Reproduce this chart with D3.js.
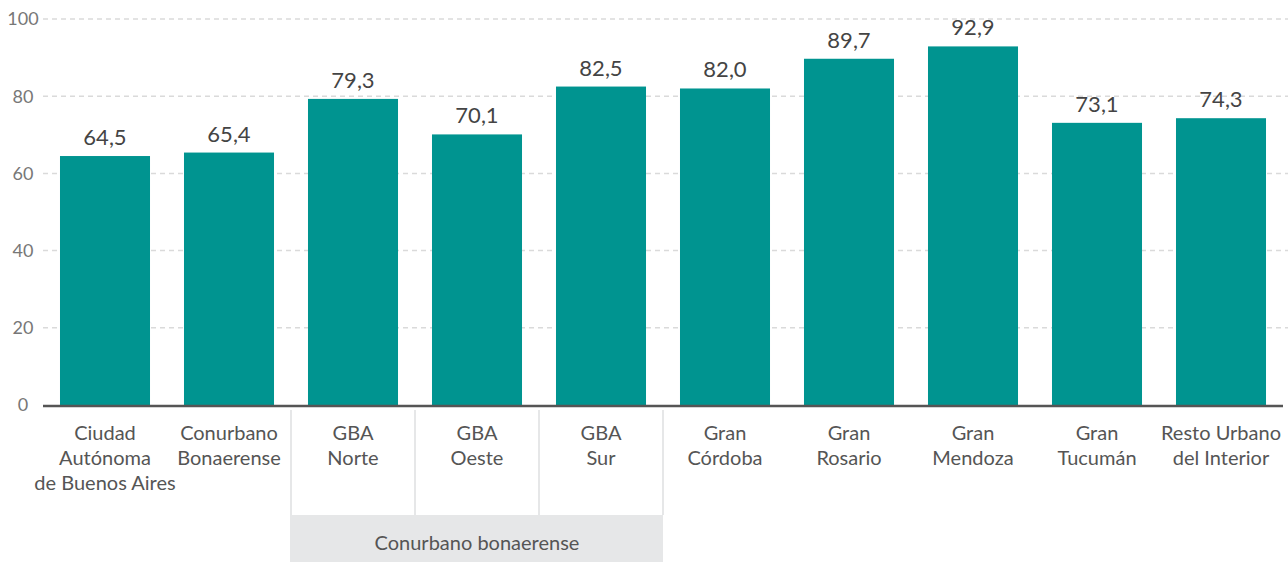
<!DOCTYPE html>
<html>
<head>
<meta charset="utf-8">
<script src="https://cdn.jsdelivr.net/npm/d3@7"></script>
<style>
  body { margin: 0; background: #fff; }
  svg { display: block; font-family: Lato, "Noto Sans", sans-serif; }
</style>
</head>
<body>
<svg id="chart" width="1288" height="562"></svg>
<script>
// data
const categories = [
  ['Ciudad', 'Autónoma', 'de Buenos Aires'],
  ['Conurbano', 'Bonaerense'],
  ['GBA', 'Norte'],
  ['GBA', 'Oeste'],
  ['GBA', 'Sur'],
  ['Gran', 'Córdoba'],
  ['Gran', 'Rosario'],
  ['Gran', 'Mendoza'],
  ['Gran', 'Tucumán'],
  ['Resto Urbano', 'del Interior']
]
const values = [64.5, 65.4, 79.3, 70.1, 82.5, 82.0, 89.7, 92.9, 73.1, 74.3]
const yTicks = [0, 20, 40, 60, 80, 100]
const groupLabel = 'Conurbano bonaerense'
const groupMembers = [2, 3, 4]   // indices of the GBA bars

const size = { width: 1288, height: 562 }
const margin = { left: 43, right: 5, top: 19, bottom: 157 }
const barColor = '#009490'

const svg = d3.select('#chart')

const x = d3.scaleBand()
  .domain(d3.range(values.length))
  .range([margin.left, size.width - margin.right])
  .paddingInner(0.274)
  .paddingOuter(0.137)

const y = d3.scaleLinear()
  .domain([0, 100])
  .range([size.height - margin.bottom, margin.top])

// grid
svg.append('g')
  .selectAll('line')
  .data(yTicks.filter(d => d > 0))
  .enter()
  .append('line')
  .attr('x1', margin.left)
  .attr('x2', size.width)
  .attr('y1', d => y(d))
  .attr('y2', d => y(d))
  .attr('stroke', '#dadada')
  .attr('stroke-width', 1.5)
  .attr('stroke-dasharray', '5,4')

// y tick labels
svg.append('g')
  .selectAll('text')
  .data(yTicks)
  .enter()
  .append('text')
  .attr('x', 23)
  .attr('y', d => y(d))
  .attr('dy', '0.35em')
  .attr('text-anchor', 'middle')
  .attr('font-size', 18)
  .attr('fill', '#777')
  .text(d => d)

// bars
svg.append('g')
  .selectAll('rect')
  .data(values)
  .enter()
  .append('rect')
  .attr('x', (d, i) => x(i))
  .attr('width', x.bandwidth())
  .attr('y', d => y(d))
  .attr('height', d => y(0) - y(d))
  .attr('fill', barColor)

// value labels
svg.append('g')
  .selectAll('text')
  .data(values)
  .enter()
  .append('text')
  .attr('x', (d, i) => x(i) + x.bandwidth() / 2)
  .attr('y', d => y(d) - 11)
  .attr('text-anchor', 'middle')
  .attr('font-size', 22)
  .attr('fill', '#444')
  .text(d => d.toFixed(1).replace('.', ','))

// baseline
svg.append('line')
  .attr('x1', margin.left)
  .attr('x2', size.width - margin.right)
  .attr('y1', y(0) + 1)
  .attr('y2', y(0) + 1)
  .attr('stroke', '#555')
  .attr('stroke-width', 2.5)

// group box under the GBA bars
const step = x.step()
const gx0 = x(groupMembers[0]) - step * x.paddingInner() / 2
const gx1 = x(groupMembers[groupMembers.length - 1]) + x.bandwidth() + step * x.paddingInner() / 2
const boxTop = 515

svg.append('rect')
  .attr('x', gx0)
  .attr('y', boxTop)
  .attr('width', gx1 - gx0)
  .attr('height', size.height - boxTop)
  .attr('fill', '#e6e7e8')

const seps = groupMembers.map(i => x(i) - step * x.paddingInner() / 2).concat([gx1])
svg.append('g')
  .selectAll('line')
  .data(seps)
  .enter()
  .append('line')
  .attr('x1', d => d)
  .attr('x2', d => d)
  .attr('y1', y(0) + 5)
  .attr('y2', (d, i) => i === 0 ? size.height : boxTop)
  .attr('stroke', '#e6e7e8')
  .attr('stroke-width', 2)

svg.append('text')
  .attr('x', (gx0 + gx1) / 2)
  .attr('y', 543)
  .attr('dy', '0.35em')
  .attr('text-anchor', 'middle')
  .attr('font-size', 20)
  .attr('fill', '#555')
  .text(groupLabel)

// category labels
const cat = svg.append('g')
  .selectAll('text')
  .data(categories)
  .enter()
  .append('text')
  .attr('x', (d, i) => x(i) + x.bandwidth() / 2)
  .attr('y', 433)
  .attr('text-anchor', 'middle')
  .attr('font-size', 20)
  .attr('fill', '#555')

cat.selectAll('tspan')
  .data(d => d)
  .enter()
  .append('tspan')
  .attr('x', function () { return d3.select(this.parentNode).attr('x') })
  .attr('dy', (d, i) => i === 0 ? '0.35em' : 25)
  .text(d => d)
</script>
</body>
</html>
